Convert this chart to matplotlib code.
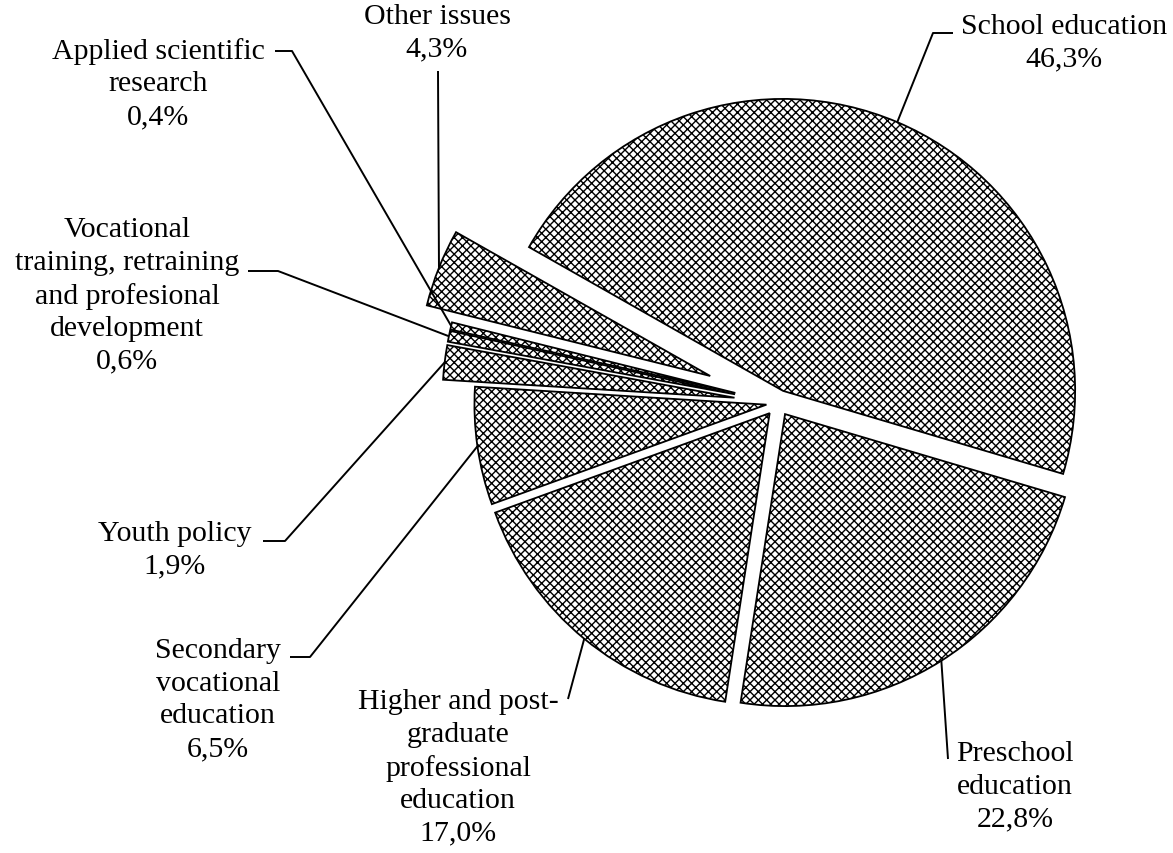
import numpy as np
import matplotlib.pyplot as plt

plt.rcParams['font.family'] = ['Liberation Serif', 'DejaVu Serif']
plt.rcParams['hatch.linewidth'] = 1.0

# Структура расходов (доли, %)
categories = ["School education", "Preschool\neducation",
              "Higher and post-\ngraduate\nprofessional\neducation",
              "Secondary\nvocational\neducation", "Youth policy",
              "Vocational\ntraining, retraining\nand profesional\ndevelopment",
              "Applied scientific\nresearch", "Other issues"]
shares = [46.3, 22.8, 17.0, 6.5, 1.9, 0.6, 0.4, 4.3]
explode = [0.045, 0.045, 0.045, 0.04, 0.15, 0.15, 0.15, 0.25]

# pixel layout of the reference (center of pie, radius)
W, H = 1173, 854
CX, CY, R = 778, 404, 292


def px(x, y):
    return (x - CX) / R, (CY - y) / R


# text centre and leader points (pixels) for every label
label_pos = [(1064, 43), (1015, 787), (458, 768), (218, 700),
             (175, 550), (127, 296), (158, 84), (437, 33)]
leader_pts = [[(953, 34), (933, 34)], [(948, 760)], [(568, 700)],
              [(290, 658), (310, 658)], [(263, 542), (285, 542)],
              [(248, 272), (278, 272)], [(275, 52), (292, 52)],
              [(438, 72)]]

fig = plt.figure(figsize=(W / 100, H / 100), dpi=100)
ax = fig.add_axes([0, 0, 1, 1])

wedges, _ = ax.pie(shares, explode=explode, startangle=150.5, counterclock=False,
                   radius=1.0,
                   wedgeprops=dict(facecolor='white', edgecolor='black',
                                   linewidth=1.3, hatch='xxxx'))

for w, lab, v, pos, pts in zip(wedges, categories, shares, label_pos, leader_pts):
    mid = np.deg2rad((w.theta1 + w.theta2) / 2)
    ax_, ay_ = w.center[0] + w.r * np.cos(mid), w.center[1] + w.r * np.sin(mid)
    xs = [px(*p)[0] for p in pts] + [ax_]
    ys = [px(*p)[1] for p in pts] + [ay_]
    ax.plot(xs, ys, color='black', lw=1.4, solid_capstyle='butt')
    txt = lab + "\n" + f"{v:.1f}%".replace('.', ',')
    tx, ty = px(*pos)
    ax.text(tx, ty, txt, ha='center', va='center', fontsize=21.5,
            linespacing=1.33)

ax.set_xlim(-CX / R, (W - CX) / R)
ax.set_ylim((CY - H) / R, CY / R)
ax.axis('off')

fig.savefig('out.png', dpi=100)
